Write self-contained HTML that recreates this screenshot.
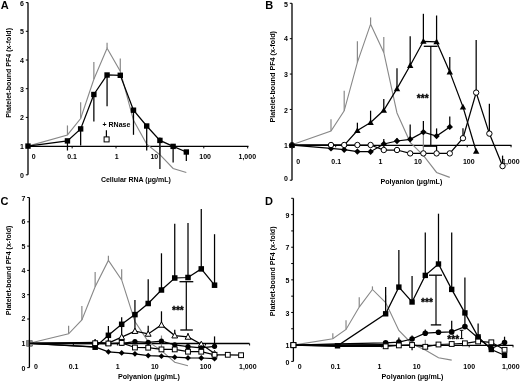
<!DOCTYPE html>
<html><head><meta charset="utf-8"><style>
html,body{margin:0;padding:0;background:#fff;width:520px;height:381px;overflow:hidden}
svg{display:block;will-change:transform}
</style></head><body>
<svg width="520" height="381" viewBox="0 0 520 381" font-family="Liberation Sans, sans-serif" font-weight="bold">
<rect width="520" height="381" fill="#fff"/>
<line x1="28" y1="2.6" x2="28" y2="174.8" stroke="#000" stroke-width="1.3" />
<line x1="25.8" y1="174.8" x2="28" y2="174.8" stroke="#000" stroke-width="1.0" />
<line x1="25.8" y1="146.1" x2="28" y2="146.1" stroke="#000" stroke-width="1.0" />
<line x1="25.8" y1="117.4" x2="28" y2="117.4" stroke="#000" stroke-width="1.0" />
<line x1="25.8" y1="88.7" x2="28" y2="88.7" stroke="#000" stroke-width="1.0" />
<line x1="25.8" y1="60" x2="28" y2="60" stroke="#000" stroke-width="1.0" />
<line x1="25.8" y1="31.3" x2="28" y2="31.3" stroke="#000" stroke-width="1.0" />
<line x1="25.8" y1="2.6" x2="28" y2="2.6" stroke="#000" stroke-width="1.0" />
<text x="24" y="5.9" font-size="7.0" text-anchor="end" >6</text>
<text x="24" y="33.9" font-size="7.0" text-anchor="end" >5</text>
<text x="24" y="62.5" font-size="7.0" text-anchor="end" >4</text>
<text x="24" y="91.6" font-size="7.0" text-anchor="end" >3</text>
<text x="24" y="119.9" font-size="7.0" text-anchor="end" >2</text>
<text x="24" y="148.6" font-size="7.0" text-anchor="end" >1</text>
<text x="24" y="178" font-size="7.0" text-anchor="end" >0</text>
<line x1="28" y1="146.4" x2="248.5" y2="146.4" stroke="#000" stroke-width="1.3" />
<line x1="72.15" y1="146.4" x2="72.15" y2="148.4" stroke="#000" stroke-width="1.0" />
<line x1="116.03" y1="146.4" x2="116.03" y2="148.4" stroke="#000" stroke-width="1.0" />
<line x1="159.91" y1="146.4" x2="159.91" y2="148.4" stroke="#000" stroke-width="1.0" />
<line x1="203.79" y1="146.4" x2="203.79" y2="148.4" stroke="#000" stroke-width="1.0" />
<line x1="247.67" y1="146.4" x2="247.67" y2="148.4" stroke="#000" stroke-width="1.0" />
<text x="33.8" y="159" font-size="7.0" text-anchor="middle" >0</text>
<text x="72" y="159" font-size="7.0" text-anchor="middle" >0.1</text>
<text x="116.6" y="159" font-size="7.0" text-anchor="middle" >1</text>
<text x="154.3" y="159" font-size="7.0" text-anchor="middle" >10</text>
<text x="205.1" y="159" font-size="7.0" text-anchor="middle" >100</text>
<text x="247.3" y="159" font-size="7.0" text-anchor="middle" >1,000</text>
<text x="100.9" y="182.3" font-size="7.0" text-anchor="start" >Cellular RNA (µg/mL)</text>
<text x="0" y="0" font-size="7.05" text-anchor="middle" transform="translate(11.4,72.8) rotate(-90)">Platelet-bound PF4 (x-fold)</text>
<text x="0.8" y="9" font-size="11" text-anchor="start" >A</text>
<line x1="67.45" y1="134.91" x2="67.45" y2="125.44" stroke="#888888" stroke-width="1.2" />
<line x1="80.65" y1="118.55" x2="80.65" y2="102.19" stroke="#888888" stroke-width="1.2" />
<line x1="93.86" y1="79.23" x2="93.86" y2="62.01" stroke="#888888" stroke-width="1.2" />
<line x1="107.07" y1="48.23" x2="107.07" y2="42.78" stroke="#888888" stroke-width="1.2" />
<line x1="120.28" y1="71.19" x2="120.28" y2="58.57" stroke="#888888" stroke-width="1.2" />
<line x1="159.91" y1="154.71" x2="159.91" y2="136.92" stroke="#888888" stroke-width="1.2" />
<polyline points="28,146.1 67.45,134.91 80.65,118.55 93.86,79.23 107.07,48.23 120.28,71.19 133.49,120.27 146.7,144.09 159.91,154.71 173.12,168.49 186.33,172.5" fill="none" stroke="#888888" stroke-width="1.1" stroke-linejoin="miter"/>
<line x1="67.45" y1="140.9" x2="67.45" y2="150.5" stroke="#000" stroke-width="1.25" />
<line x1="80.65" y1="128.9" x2="80.65" y2="145.4" stroke="#000" stroke-width="1.25" />
<line x1="93.86" y1="94.5" x2="93.86" y2="121.5" stroke="#000" stroke-width="1.25" />
<line x1="107.07" y1="75" x2="107.07" y2="106.3" stroke="#000" stroke-width="1.25" />
<line x1="133.49" y1="110.2" x2="133.49" y2="134.8" stroke="#000" stroke-width="1.25" />
<line x1="146.7" y1="126" x2="146.7" y2="150.4" stroke="#000" stroke-width="1.25" />
<line x1="159.91" y1="140.4" x2="159.91" y2="169" stroke="#000" stroke-width="1.25" />
<line x1="173.12" y1="146.4" x2="173.12" y2="162.5" stroke="#000" stroke-width="1.25" />
<line x1="186.33" y1="152" x2="186.33" y2="161" stroke="#000" stroke-width="1.25" />
<polyline points="28,146.1 67.45,140.9 80.65,128.9 93.86,94.5 107.07,75 120.28,75.3 133.49,110.2 146.7,126 159.91,140.4 173.12,146.4 186.33,152" fill="none" stroke="#000" stroke-width="1.25" stroke-linejoin="miter"/>
<rect x="25.3" y="143.4" width="5.4" height="5.4" fill="#000"/>
<rect x="64.75" y="138.2" width="5.4" height="5.4" fill="#000"/>
<rect x="77.95" y="126.2" width="5.4" height="5.4" fill="#000"/>
<rect x="91.16" y="91.8" width="5.4" height="5.4" fill="#000"/>
<rect x="104.37" y="72.3" width="5.4" height="5.4" fill="#000"/>
<rect x="117.58" y="72.6" width="5.4" height="5.4" fill="#000"/>
<rect x="130.79" y="107.5" width="5.4" height="5.4" fill="#000"/>
<rect x="144" y="123.3" width="5.4" height="5.4" fill="#000"/>
<rect x="157.21" y="137.7" width="5.4" height="5.4" fill="#000"/>
<rect x="170.42" y="143.7" width="5.4" height="5.4" fill="#000"/>
<rect x="183.63" y="149.3" width="5.4" height="5.4" fill="#000"/>
<line x1="106.4" y1="130.2" x2="106.4" y2="137" stroke="#000" stroke-width="1.2" />
<rect x="104.1" y="136.9" width="5" height="5" fill="#fff" stroke="#000" stroke-width="1"/>
<text x="102.5" y="127.2" font-size="7.0" text-anchor="start" >+ RNase</text>
<line x1="292" y1="3.3" x2="292" y2="180.2" stroke="#000" stroke-width="1.3" />
<line x1="289.8" y1="180.2" x2="292" y2="180.2" stroke="#000" stroke-width="1.0" />
<line x1="289.8" y1="144.82" x2="292" y2="144.82" stroke="#000" stroke-width="1.0" />
<line x1="289.8" y1="109.44" x2="292" y2="109.44" stroke="#000" stroke-width="1.0" />
<line x1="289.8" y1="74.06" x2="292" y2="74.06" stroke="#000" stroke-width="1.0" />
<line x1="289.8" y1="38.68" x2="292" y2="38.68" stroke="#000" stroke-width="1.0" />
<line x1="289.8" y1="3.3" x2="292" y2="3.3" stroke="#000" stroke-width="1.0" />
<text x="288" y="6.6" font-size="7.0" text-anchor="end" >5</text>
<text x="288" y="41.2" font-size="7.0" text-anchor="end" >4</text>
<text x="288" y="76.6" font-size="7.0" text-anchor="end" >3</text>
<text x="288" y="112.8" font-size="7.0" text-anchor="end" >2</text>
<text x="288" y="147.7" font-size="7.0" text-anchor="end" >1</text>
<text x="288" y="181.3" font-size="7.0" text-anchor="end" >0</text>
<line x1="292" y1="145.3" x2="511.5" y2="145.3" stroke="#000" stroke-width="1.3" />
<line x1="335.7" y1="145.3" x2="335.7" y2="147.3" stroke="#000" stroke-width="1.0" />
<line x1="379.54" y1="145.3" x2="379.54" y2="147.3" stroke="#000" stroke-width="1.0" />
<line x1="423.38" y1="145.3" x2="423.38" y2="147.3" stroke="#000" stroke-width="1.0" />
<line x1="467.22" y1="145.3" x2="467.22" y2="147.3" stroke="#000" stroke-width="1.0" />
<line x1="511.06" y1="145.3" x2="511.06" y2="147.3" stroke="#000" stroke-width="1.0" />
<text x="298.1" y="163.6" font-size="7.0" text-anchor="middle" >0</text>
<text x="336.2" y="163.6" font-size="7.0" text-anchor="middle" >0.1</text>
<text x="380.5" y="163.6" font-size="7.0" text-anchor="middle" >1</text>
<text x="418" y="163.6" font-size="7.0" text-anchor="middle" >10</text>
<text x="468.8" y="163.6" font-size="7.0" text-anchor="middle" >100</text>
<text x="510.8" y="163.6" font-size="7.0" text-anchor="middle" >1,000</text>
<text x="380.4" y="183.9" font-size="7.13" text-anchor="start" >Polyanion (µg/mL)</text>
<text x="0" y="0" font-size="7.2" text-anchor="middle" transform="translate(274.75,76.8) rotate(-90)">Platelet-bound PF4 (x-fold)</text>
<text x="265.2" y="8.9" font-size="11" text-anchor="start" >B</text>
<line x1="331" y1="131.02" x2="331" y2="119.35" stroke="#888888" stroke-width="1.2" />
<line x1="344.2" y1="110.86" x2="344.2" y2="90.69" stroke="#888888" stroke-width="1.2" />
<line x1="357.39" y1="62.38" x2="357.39" y2="41.16" stroke="#888888" stroke-width="1.2" />
<line x1="370.59" y1="24.17" x2="370.59" y2="17.45" stroke="#888888" stroke-width="1.2" />
<line x1="383.79" y1="52.48" x2="383.79" y2="36.91" stroke="#888888" stroke-width="1.2" />
<line x1="423.38" y1="155.43" x2="423.38" y2="133.5" stroke="#888888" stroke-width="1.2" />
<polyline points="292,144.82 331,131.02 344.2,110.86 357.39,62.38 370.59,24.17 383.79,52.48 396.99,112.98 410.18,142.34 423.38,155.43 436.58,172.42 449.77,177.37" fill="none" stroke="#888888" stroke-width="1.1" stroke-linejoin="miter"/>
<line x1="430.8" y1="46.3" x2="430.8" y2="145.3" stroke="#000" stroke-width="1.2" />
<line x1="423.8" y1="46.3" x2="437.6" y2="46.3" stroke="#000" stroke-width="1.3" />
<line x1="423.8" y1="146.2" x2="436.8" y2="146.2" stroke="#000" stroke-width="1.3" />
<text x="422.7" y="102.2" font-size="10.2" text-anchor="middle" stroke="#000" stroke-width="0.3">***</text>
<line x1="357.39" y1="130.5" x2="357.39" y2="122.7" stroke="#000" stroke-width="1.25" />
<line x1="370.59" y1="122.5" x2="370.59" y2="110.7" stroke="#000" stroke-width="1.25" />
<line x1="383.79" y1="110.3" x2="383.79" y2="98.9" stroke="#000" stroke-width="1.25" />
<line x1="396.99" y1="88.6" x2="396.99" y2="68.3" stroke="#000" stroke-width="1.25" />
<line x1="410.18" y1="65.5" x2="410.18" y2="36.3" stroke="#000" stroke-width="1.25" />
<line x1="423.38" y1="41.3" x2="423.38" y2="13.8" stroke="#000" stroke-width="1.25" />
<line x1="436.58" y1="41.8" x2="436.58" y2="15.5" stroke="#000" stroke-width="1.25" />
<line x1="449.77" y1="71.9" x2="449.77" y2="57" stroke="#000" stroke-width="1.25" />
<polyline points="292,145.2 331,145.1 344.2,145.1 357.39,130.5 370.59,122.5 383.79,110.3 396.99,88.6 410.18,65.5 423.38,41.3 436.58,41.8 449.77,71.9 462.97,106.9 476.17,151.3" fill="none" stroke="#000" stroke-width="1.25" stroke-linejoin="miter"/>
<polygon points="292,142 295.2,147.76 288.8,147.76" fill="#000"/>
<polygon points="357.39,127.3 360.59,133.06 354.19,133.06" fill="#000"/>
<polygon points="370.59,119.3 373.79,125.06 367.39,125.06" fill="#000"/>
<polygon points="383.79,107.1 386.99,112.86 380.59,112.86" fill="#000"/>
<polygon points="396.99,85.4 400.19,91.16 393.79,91.16" fill="#000"/>
<polygon points="410.18,62.3 413.38,68.06 406.98,68.06" fill="#000"/>
<polygon points="423.38,38.1 426.58,43.86 420.18,43.86" fill="#000"/>
<polygon points="436.58,38.6 439.78,44.36 433.38,44.36" fill="#000"/>
<polygon points="449.77,68.7 452.97,74.46 446.57,74.46" fill="#000"/>
<polygon points="462.97,103.7 466.17,109.46 459.77,109.46" fill="#000"/>
<polygon points="476.17,148.1 479.37,153.86 472.97,153.86" fill="#000"/>
<line x1="383.79" y1="144" x2="383.79" y2="138.9" stroke="#000" stroke-width="1.25" />
<line x1="396.99" y1="141" x2="396.99" y2="138.3" stroke="#000" stroke-width="1.25" />
<line x1="410.18" y1="139.3" x2="410.18" y2="124.6" stroke="#000" stroke-width="1.25" />
<line x1="423.38" y1="132.1" x2="423.38" y2="121" stroke="#000" stroke-width="1.25" />
<line x1="436.58" y1="136.1" x2="436.58" y2="128.4" stroke="#000" stroke-width="1.25" />
<line x1="449.77" y1="126.9" x2="449.77" y2="116.4" stroke="#000" stroke-width="1.25" />
<polyline points="292,145.2 331,148.4 344.2,149.7 357.39,151.6 370.59,151.7 383.79,144 396.99,141 410.18,139.3 423.38,132.1 436.58,136.1 449.77,126.9" fill="none" stroke="#000" stroke-width="1.25" stroke-linejoin="miter"/>
<polygon points="292,142 295.2,145.2 292,148.4 288.8,145.2" fill="#000"/>
<polygon points="331,145.2 334.2,148.4 331,151.6 327.8,148.4" fill="#000"/>
<polygon points="344.2,146.5 347.4,149.7 344.2,152.9 341,149.7" fill="#000"/>
<polygon points="357.39,148.4 360.59,151.6 357.39,154.8 354.19,151.6" fill="#000"/>
<polygon points="370.59,148.5 373.79,151.7 370.59,154.9 367.39,151.7" fill="#000"/>
<polygon points="383.79,140.8 386.99,144 383.79,147.2 380.59,144" fill="#000"/>
<polygon points="396.99,137.8 400.19,141 396.99,144.2 393.79,141" fill="#000"/>
<polygon points="410.18,136.1 413.38,139.3 410.18,142.5 406.98,139.3" fill="#000"/>
<polygon points="423.38,128.9 426.58,132.1 423.38,135.3 420.18,132.1" fill="#000"/>
<polygon points="436.58,132.9 439.78,136.1 436.58,139.3 433.38,136.1" fill="#000"/>
<polygon points="449.77,123.7 452.97,126.9 449.77,130.1 446.57,126.9" fill="#000"/>
<line x1="436.58" y1="153.4" x2="436.58" y2="146" stroke="#000" stroke-width="1.25" />
<line x1="462.97" y1="138.2" x2="462.97" y2="128.3" stroke="#000" stroke-width="1.25" />
<line x1="476.17" y1="92.6" x2="476.17" y2="40" stroke="#000" stroke-width="1.25" />
<line x1="489.37" y1="133.6" x2="489.37" y2="103.8" stroke="#000" stroke-width="1.25" />
<line x1="502.56" y1="166.1" x2="502.56" y2="155.6" stroke="#000" stroke-width="1.25" />
<polyline points="292,145.2 331,145 344.2,145 357.39,145 370.59,145 383.79,150 396.99,150 410.18,153.4 423.38,153.4 436.58,153.4 449.77,153.4 462.97,138.2 476.17,92.6 489.37,133.6 502.56,166.1" fill="none" stroke="#000" stroke-width="1.25" stroke-linejoin="miter"/>
<circle cx="292" cy="145.2" r="2.7" fill="#fff" stroke="#000" stroke-width="1"/>
<circle cx="331" cy="145" r="2.7" fill="#fff" stroke="#000" stroke-width="1"/>
<circle cx="344.2" cy="145" r="2.7" fill="#fff" stroke="#000" stroke-width="1"/>
<circle cx="357.39" cy="145" r="2.7" fill="#fff" stroke="#000" stroke-width="1"/>
<circle cx="370.59" cy="145" r="2.7" fill="#fff" stroke="#000" stroke-width="1"/>
<circle cx="383.79" cy="150" r="2.7" fill="#fff" stroke="#000" stroke-width="1"/>
<circle cx="396.99" cy="150" r="2.7" fill="#fff" stroke="#000" stroke-width="1"/>
<circle cx="410.18" cy="153.4" r="2.7" fill="#fff" stroke="#000" stroke-width="1"/>
<circle cx="423.38" cy="153.4" r="2.7" fill="#fff" stroke="#000" stroke-width="1"/>
<circle cx="436.58" cy="153.4" r="2.7" fill="#fff" stroke="#000" stroke-width="1"/>
<circle cx="449.77" cy="153.4" r="2.7" fill="#fff" stroke="#000" stroke-width="1"/>
<circle cx="462.97" cy="138.2" r="2.7" fill="#fff" stroke="#000" stroke-width="1"/>
<circle cx="476.17" cy="92.6" r="2.7" fill="#fff" stroke="#000" stroke-width="1"/>
<circle cx="489.37" cy="133.6" r="2.7" fill="#fff" stroke="#000" stroke-width="1"/>
<circle cx="502.56" cy="166.1" r="2.7" fill="#fff" stroke="#000" stroke-width="1"/>
<circle cx="292" cy="145.2" r="2.5" fill="#000"/>
<line x1="29.4" y1="197.5" x2="29.4" y2="367.6" stroke="#000" stroke-width="1.3" />
<line x1="27.2" y1="367.6" x2="29.4" y2="367.6" stroke="#000" stroke-width="1.0" />
<line x1="27.2" y1="343.3" x2="29.4" y2="343.3" stroke="#000" stroke-width="1.0" />
<line x1="27.2" y1="319" x2="29.4" y2="319" stroke="#000" stroke-width="1.0" />
<line x1="27.2" y1="294.7" x2="29.4" y2="294.7" stroke="#000" stroke-width="1.0" />
<line x1="27.2" y1="270.4" x2="29.4" y2="270.4" stroke="#000" stroke-width="1.0" />
<line x1="27.2" y1="246.1" x2="29.4" y2="246.1" stroke="#000" stroke-width="1.0" />
<line x1="27.2" y1="221.8" x2="29.4" y2="221.8" stroke="#000" stroke-width="1.0" />
<line x1="27.2" y1="197.5" x2="29.4" y2="197.5" stroke="#000" stroke-width="1.0" />
<text x="25.4" y="201.4" font-size="7.0" text-anchor="end" >7</text>
<text x="25.4" y="224.2" font-size="7.0" text-anchor="end" >6</text>
<text x="25.4" y="248.7" font-size="7.0" text-anchor="end" >5</text>
<text x="25.4" y="273.1" font-size="7.0" text-anchor="end" >4</text>
<text x="25.4" y="297.9" font-size="7.0" text-anchor="end" >3</text>
<text x="25.4" y="321.4" font-size="7.0" text-anchor="end" >2</text>
<text x="25.4" y="346.2" font-size="7.0" text-anchor="end" >1</text>
<text x="25.4" y="370.7" font-size="7.0" text-anchor="end" >0</text>
<line x1="29.4" y1="343.5" x2="249.5" y2="343.5" stroke="#000" stroke-width="1.3" />
<line x1="73.33" y1="343.5" x2="73.33" y2="345.5" stroke="#000" stroke-width="1.0" />
<line x1="117.4" y1="343.5" x2="117.4" y2="345.5" stroke="#000" stroke-width="1.0" />
<line x1="161.47" y1="343.5" x2="161.47" y2="345.5" stroke="#000" stroke-width="1.0" />
<line x1="205.54" y1="343.5" x2="205.54" y2="345.5" stroke="#000" stroke-width="1.0" />
<line x1="249.61" y1="343.5" x2="249.61" y2="345.5" stroke="#000" stroke-width="1.0" />
<text x="36" y="368.7" font-size="7.0" text-anchor="middle" >0</text>
<text x="73.6" y="368.7" font-size="7.0" text-anchor="middle" >0.1</text>
<text x="117.7" y="368.7" font-size="7.0" text-anchor="middle" >1</text>
<text x="154.8" y="368.7" font-size="7.0" text-anchor="middle" >10</text>
<text x="205.5" y="368.7" font-size="7.0" text-anchor="middle" >100</text>
<text x="247.8" y="368.7" font-size="7.0" text-anchor="middle" >1,000</text>
<text x="117.9" y="378.5" font-size="7.13" text-anchor="start" >Polyanion (µg/mL)</text>
<text x="0" y="0" font-size="7.05" text-anchor="middle" transform="translate(11.3,270.4) rotate(-90)">Platelet-bound PF4 (x-fold)</text>
<text x="0.6" y="204.9" font-size="11" text-anchor="start" >C</text>
<line x1="68.61" y1="333.82" x2="68.61" y2="325.8" stroke="#888888" stroke-width="1.2" />
<line x1="81.87" y1="319.97" x2="81.87" y2="306.12" stroke="#888888" stroke-width="1.2" />
<line x1="95.14" y1="286.68" x2="95.14" y2="272.1" stroke="#888888" stroke-width="1.2" />
<line x1="108.4" y1="260.44" x2="108.4" y2="255.82" stroke="#888888" stroke-width="1.2" />
<line x1="121.67" y1="279.88" x2="121.67" y2="269.19" stroke="#888888" stroke-width="1.2" />
<line x1="161.47" y1="350.59" x2="161.47" y2="335.52" stroke="#888888" stroke-width="1.2" />
<polyline points="29.4,343.3 68.61,333.82 81.87,319.97 95.14,286.68 108.4,260.44 121.67,279.88 134.94,321.43 148.2,341.6 161.47,350.59 174.74,362.25 188,365.66" fill="none" stroke="#888888" stroke-width="1.1" stroke-linejoin="miter"/>
<line x1="186.3" y1="281.7" x2="186.3" y2="330" stroke="#000" stroke-width="1.2" />
<line x1="179.5" y1="281.7" x2="193.3" y2="281.7" stroke="#000" stroke-width="1.3" />
<line x1="180.3" y1="330" x2="192.8" y2="330" stroke="#000" stroke-width="1.3" />
<text x="177.9" y="314.2" font-size="10.2" text-anchor="middle" stroke="#000" stroke-width="0.3">***</text>
<line x1="121.67" y1="337.1" x2="121.67" y2="324.5" stroke="#000" stroke-width="1.25" />
<line x1="134.94" y1="331.1" x2="134.94" y2="316.5" stroke="#000" stroke-width="1.25" />
<line x1="148.2" y1="333.9" x2="148.2" y2="325.8" stroke="#000" stroke-width="1.25" />
<line x1="161.47" y1="324.9" x2="161.47" y2="311.3" stroke="#000" stroke-width="1.25" />
<line x1="174.74" y1="335.6" x2="174.74" y2="329.7" stroke="#000" stroke-width="1.25" />
<line x1="188" y1="336.9" x2="188" y2="333" stroke="#000" stroke-width="1.25" />
<polyline points="29.4,343.3 95.14,342.5 108.4,343 121.67,337.1 134.94,331.1 148.2,333.9 161.47,324.9 174.74,335.6 188,336.9 201.27,344.2 214.54,353.5" fill="none" stroke="#000" stroke-width="1.25" stroke-linejoin="miter"/>
<polygon points="29.4,340.3 32.3,345.64 26.5,345.64" fill="#fff" stroke="#000" stroke-width="1"/>
<polygon points="95.14,339.5 98.04,344.84 92.24,344.84" fill="#fff" stroke="#000" stroke-width="1"/>
<polygon points="108.4,340 111.3,345.34 105.5,345.34" fill="#fff" stroke="#000" stroke-width="1"/>
<polygon points="121.67,334.1 124.57,339.44 118.77,339.44" fill="#fff" stroke="#000" stroke-width="1"/>
<polygon points="134.94,328.1 137.84,333.44 132.04,333.44" fill="#fff" stroke="#000" stroke-width="1"/>
<polygon points="148.2,330.9 151.1,336.24 145.3,336.24" fill="#fff" stroke="#000" stroke-width="1"/>
<polygon points="161.47,321.9 164.37,327.24 158.57,327.24" fill="#fff" stroke="#000" stroke-width="1"/>
<polygon points="174.74,332.6 177.64,337.94 171.84,337.94" fill="#fff" stroke="#000" stroke-width="1"/>
<polygon points="188,333.9 190.9,339.24 185.1,339.24" fill="#fff" stroke="#000" stroke-width="1"/>
<polygon points="201.27,341.2 204.17,346.54 198.37,346.54" fill="#fff" stroke="#000" stroke-width="1"/>
<polygon points="214.54,350.5 217.44,355.84 211.64,355.84" fill="#fff" stroke="#000" stroke-width="1"/>
<line x1="214.54" y1="346.3" x2="214.54" y2="336.4" stroke="#000" stroke-width="1.25" />
<polyline points="29.4,343.3 95.14,343.5 108.4,343.5 121.67,343.4 134.94,341.6 148.2,342.3 161.47,341.2 174.74,344.8 188,346.7 201.27,347.8 214.54,346.3" fill="none" stroke="#000" stroke-width="1.25" stroke-linejoin="miter"/>
<circle cx="29.4" cy="343.3" r="2.6" fill="#000"/>
<circle cx="95.14" cy="343.5" r="2.6" fill="#000"/>
<circle cx="108.4" cy="343.5" r="2.6" fill="#000"/>
<circle cx="121.67" cy="343.4" r="2.6" fill="#000"/>
<circle cx="134.94" cy="341.6" r="2.6" fill="#000"/>
<circle cx="148.2" cy="342.3" r="2.6" fill="#000"/>
<circle cx="161.47" cy="341.2" r="2.6" fill="#000"/>
<circle cx="174.74" cy="344.8" r="2.6" fill="#000"/>
<circle cx="188" cy="346.7" r="2.6" fill="#000"/>
<circle cx="201.27" cy="347.8" r="2.6" fill="#000"/>
<circle cx="214.54" cy="346.3" r="2.6" fill="#000"/>
<polyline points="29.4,343.3 95.14,346.8 108.4,351.8 121.67,352.9 134.94,353.8 148.2,355.6 161.47,356.2 174.74,357.2 188,357.9 201.27,358 214.54,358.7" fill="none" stroke="#000" stroke-width="1.25" stroke-linejoin="miter"/>
<polygon points="29.4,340.4 32.3,343.3 29.4,346.2 26.5,343.3" fill="#000"/>
<polygon points="95.14,343.9 98.04,346.8 95.14,349.7 92.24,346.8" fill="#000"/>
<polygon points="108.4,348.9 111.3,351.8 108.4,354.7 105.5,351.8" fill="#000"/>
<polygon points="121.67,350 124.57,352.9 121.67,355.8 118.77,352.9" fill="#000"/>
<polygon points="134.94,350.9 137.84,353.8 134.94,356.7 132.04,353.8" fill="#000"/>
<polygon points="148.2,352.7 151.1,355.6 148.2,358.5 145.3,355.6" fill="#000"/>
<polygon points="161.47,353.3 164.37,356.2 161.47,359.1 158.57,356.2" fill="#000"/>
<polygon points="174.74,354.3 177.64,357.2 174.74,360.1 171.84,357.2" fill="#000"/>
<polygon points="188,355 190.9,357.9 188,360.8 185.1,357.9" fill="#000"/>
<polygon points="201.27,355.1 204.17,358 201.27,360.9 198.37,358" fill="#000"/>
<polygon points="214.54,355.8 217.44,358.7 214.54,361.6 211.64,358.7" fill="#000"/>
<line x1="108.4" y1="335.3" x2="108.4" y2="326" stroke="#000" stroke-width="1.25" />
<line x1="121.67" y1="324.3" x2="121.67" y2="317.2" stroke="#000" stroke-width="1.25" />
<line x1="134.94" y1="314.6" x2="134.94" y2="300" stroke="#000" stroke-width="1.25" />
<line x1="148.2" y1="303.5" x2="148.2" y2="279.2" stroke="#000" stroke-width="1.25" />
<line x1="161.47" y1="290" x2="161.47" y2="253.3" stroke="#000" stroke-width="1.25" />
<line x1="174.74" y1="278" x2="174.74" y2="223.8" stroke="#000" stroke-width="1.25" />
<line x1="188" y1="277.5" x2="188" y2="223.1" stroke="#000" stroke-width="1.25" />
<line x1="201.27" y1="268.9" x2="201.27" y2="208.9" stroke="#000" stroke-width="1.25" />
<line x1="214.54" y1="285.2" x2="214.54" y2="234.2" stroke="#000" stroke-width="1.25" />
<polyline points="29.4,343.3 95.14,347.2 108.4,335.3 121.67,324.3 134.94,314.6 148.2,303.5 161.47,290 174.74,278 188,277.5 201.27,268.9 214.54,285.2" fill="none" stroke="#000" stroke-width="1.25" stroke-linejoin="miter"/>
<rect x="26.65" y="340.55" width="5.5" height="5.5" fill="#000"/>
<rect x="92.39" y="344.45" width="5.5" height="5.5" fill="#000"/>
<rect x="105.65" y="332.55" width="5.5" height="5.5" fill="#000"/>
<rect x="118.92" y="321.55" width="5.5" height="5.5" fill="#000"/>
<rect x="132.19" y="311.85" width="5.5" height="5.5" fill="#000"/>
<rect x="145.45" y="300.75" width="5.5" height="5.5" fill="#000"/>
<rect x="158.72" y="287.25" width="5.5" height="5.5" fill="#000"/>
<rect x="171.99" y="275.25" width="5.5" height="5.5" fill="#000"/>
<rect x="185.25" y="274.75" width="5.5" height="5.5" fill="#000"/>
<rect x="198.52" y="266.15" width="5.5" height="5.5" fill="#000"/>
<rect x="211.79" y="282.45" width="5.5" height="5.5" fill="#000"/>
<line x1="95.14" y1="343.2" x2="95.14" y2="339.2" stroke="#000" stroke-width="1.25" />
<line x1="108.4" y1="343.5" x2="108.4" y2="336" stroke="#000" stroke-width="1.25" />
<polyline points="29.4,343.3 95.14,343.2 108.4,343.5 121.67,342.9 134.94,347.5 148.2,347.7 161.47,349.4 174.74,349.4 188,351.7 201.27,351.7 214.54,354.8 227.8,354.8 241.07,355.2" fill="none" stroke="#000" stroke-width="1.25" stroke-linejoin="miter"/>
<rect x="27" y="340.9" width="4.8" height="4.8" fill="#fff" stroke="#000" stroke-width="1"/>
<rect x="92.74" y="340.8" width="4.8" height="4.8" fill="#fff" stroke="#000" stroke-width="1"/>
<rect x="106" y="341.1" width="4.8" height="4.8" fill="#fff" stroke="#000" stroke-width="1"/>
<rect x="119.27" y="340.5" width="4.8" height="4.8" fill="#fff" stroke="#000" stroke-width="1"/>
<rect x="132.54" y="345.1" width="4.8" height="4.8" fill="#fff" stroke="#000" stroke-width="1"/>
<rect x="145.8" y="345.3" width="4.8" height="4.8" fill="#fff" stroke="#000" stroke-width="1"/>
<rect x="159.07" y="347" width="4.8" height="4.8" fill="#fff" stroke="#000" stroke-width="1"/>
<rect x="172.34" y="347" width="4.8" height="4.8" fill="#fff" stroke="#000" stroke-width="1"/>
<rect x="185.6" y="349.3" width="4.8" height="4.8" fill="#fff" stroke="#000" stroke-width="1"/>
<rect x="198.87" y="349.3" width="4.8" height="4.8" fill="#fff" stroke="#000" stroke-width="1"/>
<rect x="212.14" y="352.4" width="4.8" height="4.8" fill="#fff" stroke="#000" stroke-width="1"/>
<rect x="225.4" y="352.4" width="4.8" height="4.8" fill="#fff" stroke="#000" stroke-width="1"/>
<rect x="238.67" y="352.8" width="4.8" height="4.8" fill="#fff" stroke="#000" stroke-width="1"/>
<rect x="26.1" y="339.9" width="6.6" height="6.8" rx="1.5" fill="#8a8a8a"/>
<line x1="29.4" y1="339.8" x2="29.4" y2="346.8" stroke="#000" stroke-width="1.3" />
<line x1="29.4" y1="343.3" x2="33.4" y2="343.3" stroke="#000" stroke-width="1.5" />
<line x1="293.4" y1="198.3" x2="293.4" y2="361.4" stroke="#000" stroke-width="1.3" />
<line x1="291.2" y1="361.4" x2="293.4" y2="361.4" stroke="#000" stroke-width="1.0" />
<line x1="291.2" y1="345.09" x2="293.4" y2="345.09" stroke="#000" stroke-width="1.0" />
<line x1="291.2" y1="328.78" x2="293.4" y2="328.78" stroke="#000" stroke-width="1.0" />
<line x1="291.2" y1="312.47" x2="293.4" y2="312.47" stroke="#000" stroke-width="1.0" />
<line x1="291.2" y1="296.16" x2="293.4" y2="296.16" stroke="#000" stroke-width="1.0" />
<line x1="291.2" y1="279.85" x2="293.4" y2="279.85" stroke="#000" stroke-width="1.0" />
<line x1="291.2" y1="263.54" x2="293.4" y2="263.54" stroke="#000" stroke-width="1.0" />
<line x1="291.2" y1="247.23" x2="293.4" y2="247.23" stroke="#000" stroke-width="1.0" />
<line x1="291.2" y1="230.92" x2="293.4" y2="230.92" stroke="#000" stroke-width="1.0" />
<line x1="291.2" y1="214.61" x2="293.4" y2="214.61" stroke="#000" stroke-width="1.0" />
<line x1="291.2" y1="198.3" x2="293.4" y2="198.3" stroke="#000" stroke-width="1.0" />
<text x="289.4" y="364.7" font-size="7.0" text-anchor="end" >0</text>
<text x="289.4" y="347.6" font-size="7.0" text-anchor="end" >1</text>
<text x="289.4" y="315.6" font-size="7.0" text-anchor="end" >3</text>
<text x="289.4" y="283.4" font-size="7.0" text-anchor="end" >5</text>
<text x="289.4" y="250.4" font-size="7.0" text-anchor="end" >7</text>
<text x="289.4" y="218" font-size="7.0" text-anchor="end" >9</text>
<line x1="293.4" y1="345.35" x2="513.3" y2="345.35" stroke="#000" stroke-width="1.3" />
<line x1="337.52" y1="345.35" x2="337.52" y2="347.35" stroke="#000" stroke-width="1.0" />
<line x1="381.4" y1="345.35" x2="381.4" y2="347.35" stroke="#000" stroke-width="1.0" />
<line x1="425.28" y1="345.35" x2="425.28" y2="347.35" stroke="#000" stroke-width="1.0" />
<line x1="469.16" y1="345.35" x2="469.16" y2="347.35" stroke="#000" stroke-width="1.0" />
<line x1="513.04" y1="345.35" x2="513.04" y2="347.35" stroke="#000" stroke-width="1.0" />
<text x="299.7" y="368.7" font-size="7.0" text-anchor="middle" >0</text>
<text x="335.6" y="368.7" font-size="7.0" text-anchor="middle" >0.1</text>
<text x="379.4" y="368.7" font-size="7.0" text-anchor="middle" >1</text>
<text x="416.7" y="368.7" font-size="7.0" text-anchor="middle" >10</text>
<text x="469.2" y="368.7" font-size="7.0" text-anchor="middle" >100</text>
<text x="510.8" y="368.7" font-size="7.0" text-anchor="middle" >1,000</text>
<text x="381.6" y="378.6" font-size="7.13" text-anchor="start" >Polyanion (µg/mL)</text>
<text x="0" y="0" font-size="7.05" text-anchor="middle" transform="translate(275,271.3) rotate(-90)">Platelet-bound PF4 (x-fold)</text>
<text x="264.9" y="204.9" font-size="11" text-anchor="start" >D</text>
<line x1="332.82" y1="338.73" x2="332.82" y2="333.35" stroke="#888888" stroke-width="1.2" />
<line x1="346.02" y1="329.43" x2="346.02" y2="320.14" stroke="#888888" stroke-width="1.2" />
<line x1="359.23" y1="307.09" x2="359.23" y2="297.3" stroke="#888888" stroke-width="1.2" />
<line x1="372.44" y1="289.47" x2="372.44" y2="286.37" stroke="#888888" stroke-width="1.2" />
<line x1="385.65" y1="302.52" x2="385.65" y2="295.34" stroke="#888888" stroke-width="1.2" />
<line x1="425.28" y1="349.98" x2="425.28" y2="339.87" stroke="#888888" stroke-width="1.2" />
<polyline points="293.4,345.09 332.82,338.73 346.02,329.43 359.23,307.09 372.44,289.47 385.65,302.52 398.86,330.41 412.07,343.95 425.28,349.98 438.49,357.81 451.7,360.1" fill="none" stroke="#888888" stroke-width="1.1" stroke-linejoin="miter"/>
<line x1="436" y1="275.2" x2="436" y2="324.9" stroke="#000" stroke-width="1.2" />
<line x1="429" y1="275.2" x2="442" y2="275.2" stroke="#000" stroke-width="1.3" />
<line x1="430.8" y1="324.9" x2="441.2" y2="324.9" stroke="#000" stroke-width="1.3" />
<text x="427" y="306.3" font-size="10.2" text-anchor="middle" stroke="#000" stroke-width="0.3">***</text>
<line x1="461.6" y1="330.3" x2="461.6" y2="338.6" stroke="#000" stroke-width="1.1" />
<line x1="459.8" y1="330.3" x2="463.4" y2="330.3" stroke="#000" stroke-width="1.0" />
<line x1="459.8" y1="338.6" x2="463.4" y2="338.6" stroke="#000" stroke-width="1.0" />
<text x="453.2" y="343.2" font-size="10.2" text-anchor="middle" stroke="#000" stroke-width="0.3">***</text>
<polyline points="293.4,345.2 337.52,345 385.65,344.7" fill="none" stroke="#000" stroke-width="1.4" stroke-linejoin="miter"/>
<line x1="398.86" y1="342.1" x2="398.86" y2="337.6" stroke="#000" stroke-width="1.25" />
<line x1="412.07" y1="339" x2="412.07" y2="335.5" stroke="#000" stroke-width="1.25" />
<line x1="425.28" y1="333.2" x2="425.28" y2="329.6" stroke="#000" stroke-width="1.25" />
<line x1="451.7" y1="331.9" x2="451.7" y2="320.8" stroke="#000" stroke-width="1.25" />
<line x1="464.91" y1="326.6" x2="464.91" y2="313.5" stroke="#000" stroke-width="1.25" />
<line x1="504.54" y1="342.5" x2="504.54" y2="336.7" stroke="#000" stroke-width="1.25" />
<polyline points="293.4,345.2 337.52,343.8 385.65,342.9 398.86,342.1 412.07,339 425.28,333.2 438.49,332.3 451.7,331.9 464.91,326.6 478.12,338 491.33,348.5 504.54,342.5" fill="none" stroke="#000" stroke-width="1.25" stroke-linejoin="miter"/>
<circle cx="293.4" cy="345.2" r="2.8" fill="#000"/>
<circle cx="385.65" cy="342.9" r="2.8" fill="#000"/>
<circle cx="398.86" cy="342.1" r="2.8" fill="#000"/>
<circle cx="412.07" cy="339" r="2.8" fill="#000"/>
<circle cx="425.28" cy="333.2" r="2.8" fill="#000"/>
<circle cx="438.49" cy="332.3" r="2.8" fill="#000"/>
<circle cx="451.7" cy="331.9" r="2.8" fill="#000"/>
<circle cx="464.91" cy="326.6" r="2.8" fill="#000"/>
<circle cx="478.12" cy="338" r="2.8" fill="#000"/>
<circle cx="491.33" cy="348.5" r="2.8" fill="#000"/>
<circle cx="504.54" cy="342.5" r="2.8" fill="#000"/>
<line x1="385.65" y1="313.8" x2="385.65" y2="287.1" stroke="#000" stroke-width="1.25" />
<line x1="398.86" y1="287.1" x2="398.86" y2="250" stroke="#000" stroke-width="1.25" />
<line x1="412.07" y1="302" x2="412.07" y2="276" stroke="#000" stroke-width="1.25" />
<line x1="425.28" y1="275.4" x2="425.28" y2="232.6" stroke="#000" stroke-width="1.25" />
<line x1="438.49" y1="264" x2="438.49" y2="213.7" stroke="#000" stroke-width="1.25" />
<line x1="451.7" y1="289.4" x2="451.7" y2="232.6" stroke="#000" stroke-width="1.25" />
<line x1="464.91" y1="312.9" x2="464.91" y2="277.6" stroke="#000" stroke-width="1.25" />
<line x1="478.12" y1="336.9" x2="478.12" y2="323.5" stroke="#000" stroke-width="1.25" />
<polyline points="293.4,345.2 337.52,345.8 385.65,313.8 398.86,287.1 412.07,302 425.28,275.4 438.49,264 451.7,289.4 464.91,312.9 478.12,336.9 491.33,349.5 504.54,355.3" fill="none" stroke="#000" stroke-width="1.25" stroke-linejoin="miter"/>
<rect x="290.7" y="342.5" width="5.4" height="5.4" fill="#000"/>
<rect x="334.82" y="343.1" width="5.4" height="5.4" fill="#000"/>
<rect x="382.95" y="311.1" width="5.4" height="5.4" fill="#000"/>
<rect x="396.16" y="284.4" width="5.4" height="5.4" fill="#000"/>
<rect x="409.37" y="299.3" width="5.4" height="5.4" fill="#000"/>
<rect x="422.58" y="272.7" width="5.4" height="5.4" fill="#000"/>
<rect x="435.79" y="261.3" width="5.4" height="5.4" fill="#000"/>
<rect x="449" y="286.7" width="5.4" height="5.4" fill="#000"/>
<rect x="462.21" y="310.2" width="5.4" height="5.4" fill="#000"/>
<rect x="475.42" y="334.2" width="5.4" height="5.4" fill="#000"/>
<rect x="488.63" y="346.8" width="5.4" height="5.4" fill="#000"/>
<rect x="501.84" y="352.6" width="5.4" height="5.4" fill="#000"/>
<line x1="412.07" y1="345" x2="412.07" y2="350.2" stroke="#000" stroke-width="1.25" />
<polyline points="293.4,345.2 337.52,346.4 385.65,346.3 398.86,345.4 412.07,345 425.28,346.8 438.49,344.5 451.7,344 464.91,343.3 478.12,341.5 491.33,342.3 504.54,349.8" fill="none" stroke="#000" stroke-width="1.25" stroke-linejoin="miter"/>
<rect x="291" y="342.8" width="4.8" height="4.8" fill="#fff" stroke="#000" stroke-width="1"/>
<rect x="383.25" y="343.9" width="4.8" height="4.8" fill="#fff" stroke="#000" stroke-width="1"/>
<rect x="396.46" y="343" width="4.8" height="4.8" fill="#fff" stroke="#000" stroke-width="1"/>
<rect x="409.67" y="342.6" width="4.8" height="4.8" fill="#fff" stroke="#000" stroke-width="1"/>
<rect x="422.88" y="344.4" width="4.8" height="4.8" fill="#fff" stroke="#000" stroke-width="1"/>
<rect x="436.09" y="342.1" width="4.8" height="4.8" fill="#fff" stroke="#000" stroke-width="1"/>
<rect x="449.3" y="341.6" width="4.8" height="4.8" fill="#fff" stroke="#000" stroke-width="1"/>
<rect x="462.51" y="340.9" width="4.8" height="4.8" fill="#fff" stroke="#000" stroke-width="1"/>
<rect x="475.72" y="339.1" width="4.8" height="4.8" fill="#fff" stroke="#000" stroke-width="1"/>
<rect x="488.93" y="339.9" width="4.8" height="4.8" fill="#fff" stroke="#000" stroke-width="1"/>
<rect x="502.14" y="347.4" width="4.8" height="4.8" fill="#fff" stroke="#000" stroke-width="1"/>
<rect x="290.9" y="342.59" width="5" height="5" fill="#fff" stroke="#000" stroke-width="1"/>
</svg>
</body></html>
